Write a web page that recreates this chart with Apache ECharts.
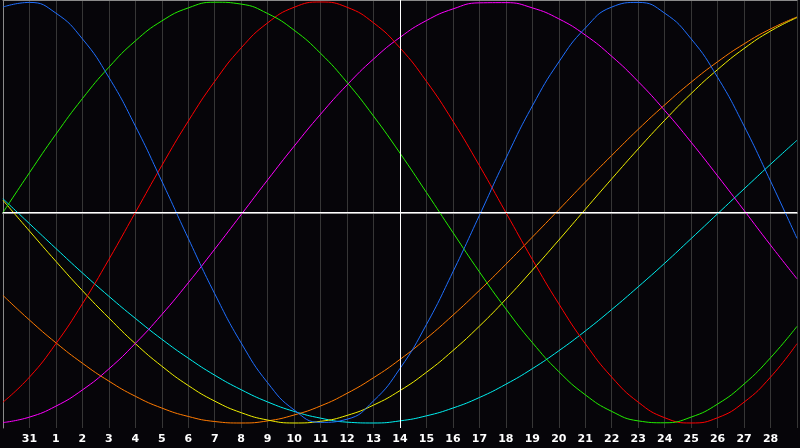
<!DOCTYPE html>
<html>
<head>
<meta charset="utf-8">
<script src="https://cdn.jsdelivr.net/npm/echarts@6/dist/echarts.min.js"></script>
<style>
  html, body { margin: 0; padding: 0; background: #060509; }
  #chart { width: 800px; height: 448px; }
</style>
</head>
<body>
<div id="chart"></div>
<script>
// Day labels at each grid line (index 0 = left edge, 30 = right edge)
const dayLabels = ['', '31', '1', '2', '3', '4', '5', '6', '7', '8', '9', '10', '11', '12', '13', '14',
  '15', '16', '17', '18', '19', '20', '21', '22', '23', '24', '25', '26', '27', '28', ''];

// Values, one per grid line (index 0..30), range -1..1
const physical = [0.976, 0.998, 0.947, 0.825, 0.642, 0.411, 0.149, -0.123, -0.386, -0.620, -0.809,
  -0.938, -0.997, -0.982, -0.895, -0.741, -0.532, -0.282, -0.014, 0.257, 0.506, 0.715, 0.876, 0.976,
  0.998, 0.947, 0.825, 0.642, 0.411, 0.149, -0.123];
const emotional = [-0.901, -0.782, -0.623, -0.434, -0.223, 0, 0.223, 0.434, 0.623, 0.782, 0.901,
  0.975, 1, 0.975, 0.901, 0.782, 0.623, 0.434, 0.223, 0, -0.223, -0.434, -0.623, -0.782, -0.901,
  -0.975, -1, -0.975, -0.901, -0.782, -0.623];
const intellectual = [0, 0.189, 0.372, 0.541, 0.690, 0.815, 0.910, 0.972, 0.999, 0.990, 0.945, 0.866,
  0.756, 0.618, 0.458, 0.282, 0.095, -0.095, -0.282, -0.458, -0.618, -0.756, -0.866, -0.945, -0.990,
  -0.999, -0.972, -0.910, -0.815, -0.690, -0.541];
const intuitive = [-0.998, -0.972, -0.920, -0.843, -0.743, -0.622, -0.485, -0.334, -0.174, -0.010,
  0.155, 0.315, 0.467, 0.606, 0.729, 0.832, 0.912, 0.967, 0.996, 0.997, 0.972, 0.920, 0.843, 0.742,
  0.622, 0.485, 0.334, 0.174, 0.010, -0.155, -0.315];
const aesthetic = [0.058, -0.088, -0.232, -0.371, -0.501, -0.623, -0.730, -0.822, -0.896, -0.951,
  -0.986, -1.000, -0.992, -0.964, -0.915, -0.846, -0.759, -0.656, -0.540, -0.412, -0.274, -0.131,
  0.015, 0.160, 0.302, 0.438, 0.565, 0.679, 0.779, 0.862, 0.926];
const awareness = [-0.394, -0.511, -0.619, -0.716, -0.801, -0.873, -0.929, -0.969, -0.993, -1.000,
  -0.990, -0.962, -0.919, -0.859, -0.785, -0.698, -0.598, -0.488, -0.370, -0.246, -0.117, 0.013,
  0.144, 0.271, 0.395, 0.511, 0.619, 0.716, 0.801, 0.872, 0.929];
const spiritual = [0.065, -0.053, -0.171, -0.287, -0.398, -0.503, -0.602, -0.692, -0.773, -0.842,
  -0.900, -0.945, -0.977, -0.996, -1.000, -0.990, -0.966, -0.929, -0.879, -0.816, -0.742, -0.657,
  -0.563, -0.461, -0.353, -0.241, -0.124, -0.006, 0.112, 0.229, 0.343];

const todayIndex = 15;

const curves = [
  { name: 'Spiritual', values: spiritual, color: '#00f0f0' },
  { name: 'Awareness', values: awareness, color: '#ff7a00' },
  { name: 'Aesthetic', values: aesthetic, color: '#f0f000' },
  { name: 'Intuitive', values: intuitive, color: '#ff00ff' },
  { name: 'Emotional', values: emotional, color: '#ff0000' },
  { name: 'Intellectual', values: intellectual, color: '#22ee00' },
  { name: 'Physical', values: physical, color: '#1f6fff' }
];

const chart = echarts.init(document.getElementById('chart'), null, { renderer: 'canvas' });

const series = [{
  type: 'line',
  data: [],
  z: 1,
  silent: true,
  markLine: {
    silent: true,
    symbol: 'none',
    animation: false,
    label: { show: false },
    lineStyle: { color: '#ffffff', width: 1, type: 'solid' },
    emphasis: { disabled: true },
    data: [{ yAxis: 0 }, { xAxis: todayIndex }]
  }
}].concat(curves.map(c => ({
  name: c.name,
  type: 'line',
  z: 3,
  data: c.values.map((v, i) => [i, v]),
  smooth: true,
  showSymbol: false,
  symbol: 'none',
  lineStyle: { color: c.color, width: 1 },
  itemStyle: { color: c.color },
  emphasis: { disabled: true },
  animation: false
})));

chart.setOption({
  backgroundColor: '#060509',
  animation: false,
  grid: { left: 0, right: 0, top: 0, bottom: 20, containLabel: false },
  xAxis: [{
    type: 'value',
    min: 0,
    max: 30,
    interval: 1,
    position: 'bottom',
    axisLine: { show: true, lineStyle: { color: '#9a9a9a', width: 2 } },
    axisTick: { show: false },
    axisLabel: {
      show: true,
      color: '#ffffff',
      fontFamily: 'DejaVu Sans',
      fontWeight: 'bold',
      fontSize: 11,
      margin: 6,
      formatter: v => dayLabels[Math.round(v)] || ''
    },
    splitLine: { show: true, lineStyle: { color: '#363636', width: 1 } }
  }, {
    type: 'value',
    min: 0,
    max: 30,
    position: 'top',
    axisLine: { show: true, onZero: false, lineStyle: { color: '#8a8a8a', width: 1 } },
    axisTick: { show: false },
    axisLabel: { show: false },
    splitLine: { show: false }
  }],
  yAxis: {
    type: 'value',
    min: -1.0238,
    max: 1.0095,
    position: 'left',
    axisLine: { show: true, onZero: false, lineStyle: { color: '#8a8a8a', width: 1 } },
    axisTick: { show: false },
    axisLabel: { show: false },
    splitLine: { show: false }
  },
  series: series
});
</script>
</body>
</html>
